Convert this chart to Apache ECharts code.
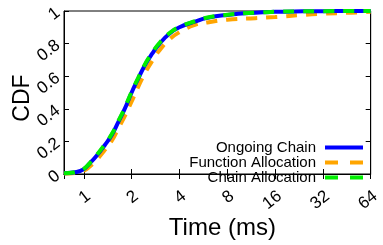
<!DOCTYPE html>
<html>
<head>
<meta charset="utf-8">
<script src="https://cdn.jsdelivr.net/npm/echarts@6/dist/echarts.min.js"></script>
<style>
  html, body { margin: 0; padding: 0; background: #fff; }
  #chart { width: 383px; height: 245px; }
</style>
</head>
<body>
<div id="chart"></div>
<script>
// time in ms (log2 x axis)
const times = [0.75, 0.9, 1, 1.1, 1.2, 1.35, 1.5, 1.65, 1.8, 2, 2.2, 2.4, 2.7, 3, 3.5, 4, 5, 6, 8, 12, 16, 24, 32, 48, 64];
const ongoingChain = [0.005, 0.012, 0.03, 0.07, 0.11, 0.175, 0.24, 0.32, 0.395, 0.5, 0.585, 0.66, 0.74, 0.8, 0.865, 0.9, 0.935, 0.958, 0.976, 0.99, 0.995, 0.998, 0.999, 1, 1];
const functionAlloc = [0.003, 0.008, 0.02, 0.05, 0.085, 0.145, 0.205, 0.28, 0.35, 0.445, 0.535, 0.61, 0.695, 0.76, 0.83, 0.87, 0.915, 0.93, 0.947, 0.956, 0.963, 0.976, 0.983, 0.99, 0.995];
const chainAlloc = [0.005, 0.013, 0.032, 0.072, 0.115, 0.18, 0.245, 0.325, 0.4, 0.505, 0.59, 0.665, 0.745, 0.805, 0.868, 0.902, 0.937, 0.96, 0.977, 0.99, 0.995, 0.998, 0.999, 1, 1];
const xTicks = [1, 2, 4, 8, 16, 32, 64];
const yTicks = [0, 0.2, 0.4, 0.6, 0.8, 1];

const chart = echarts.init(document.getElementById("chart"));
const pairs = (ys) => times.map((t, i) => [t, ys[i]]);
const font = "Liberation Sans, Arial, sans-serif";
const solidIcon = "path://M0,0h38v4h-38z";
const dashIcon = "path://M0,0h13v4h-13z M25,0h13v4h-13z";

const line = (name, ys, color, dashed) => ({
    name: name,
    type: "line",
    data: pairs(ys),
    smooth: true,
    symbol: "none",
    lineStyle: { color: color, width: 4, type: dashed ? [11, 9] : "solid", cap: "butt" },
    itemStyle: { color: color }
});

chart.setOption({
    animation: false,
    grid: { left: 64, right: 1, top: 11, bottom: 57, show: true, borderColor: "#000", borderWidth: 1 },
    legend: {
        right: 15,
        top: 135,
        orient: "vertical",
        align: "right",
        itemWidth: 38,
        itemHeight: 4,
        itemGap: 0,
        textStyle: { fontFamily: font, fontSize: 15, color: "#000", padding: [0, 4, 0, 0] },
        data: [
            { name: "Ongoing Chain", icon: solidIcon },
            { name: "Function Allocation", icon: dashIcon },
            { name: "Chain Allocation", icon: dashIcon }
        ]
    },
    xAxis: [{
        type: "log",
        logBase: 2,
        min: 0.75,
        max: 64,
        name: "Time (ms)",
        nameLocation: "middle",
        nameGap: 42,
        nameMoveOverlap: false,
        nameTextStyle: { fontFamily: font, fontSize: 24, color: "#000", padding: [0, 0, 0, 10] },
        axisLine: { lineStyle: { color: "#000" } },
        axisTick: { inside: true, length: 5, lineStyle: { color: "#000" } },
        splitLine: { show: false },
        axisLabel: {
            rotate: 38,
            fontFamily: font,
            fontSize: 17,
            color: "#000",
            margin: 24,
            padding: [0, -6, 0, 0],
            showMinLabel: false,
            formatter: (v) => (xTicks.includes(Math.round(v * 1000) / 1000) ? String(Math.round(v)) : "")
        }
    }, {
        type: "log",
        logBase: 2,
        min: 0.75,
        max: 64,
        position: "top",
        axisLine: { lineStyle: { color: "#000" } },
        axisTick: { inside: true, length: 5, lineStyle: { color: "#000" } },
        axisLabel: { show: false },
        splitLine: { show: false }
    }],
    yAxis: [{
        type: "value",
        min: 0,
        max: 1,
        interval: 0.2,
        name: "CDF",
        nameLocation: "middle",
        nameGap: 30,
        nameMoveOverlap: false,
        nameTextStyle: { fontFamily: font, fontSize: 23, color: "#000", padding: [0, 11, 0, 0] },
        axisLine: { show: true, lineStyle: { color: "#000" } },
        axisTick: { show: true, inside: true, length: 5, lineStyle: { color: "#000" } },
        splitLine: { show: false },
        axisLabel: {
            rotate: 38,
            fontFamily: font,
            fontSize: 17,
            color: "#000",
            margin: 6,
            formatter: (v) => String(yTicks.find((t) => Math.abs(t - v) < 1e-6) ?? v)
        }
    }, {
        type: "value",
        min: 0,
        max: 1,
        interval: 0.2,
        position: "right",
        axisLine: { show: true, lineStyle: { color: "#000" } },
        axisTick: { show: true, inside: true, length: 5, lineStyle: { color: "#000" } },
        axisLabel: { show: false },
        splitLine: { show: false }
    }],
    series: [
        line("Function Allocation", functionAlloc, "#ffa500", true),
        line("Ongoing Chain", ongoingChain, "#0000ff", false),
        line("Chain Allocation", chainAlloc, "#00ee00", true)
    ]
});
</script>
</body>
</html>
